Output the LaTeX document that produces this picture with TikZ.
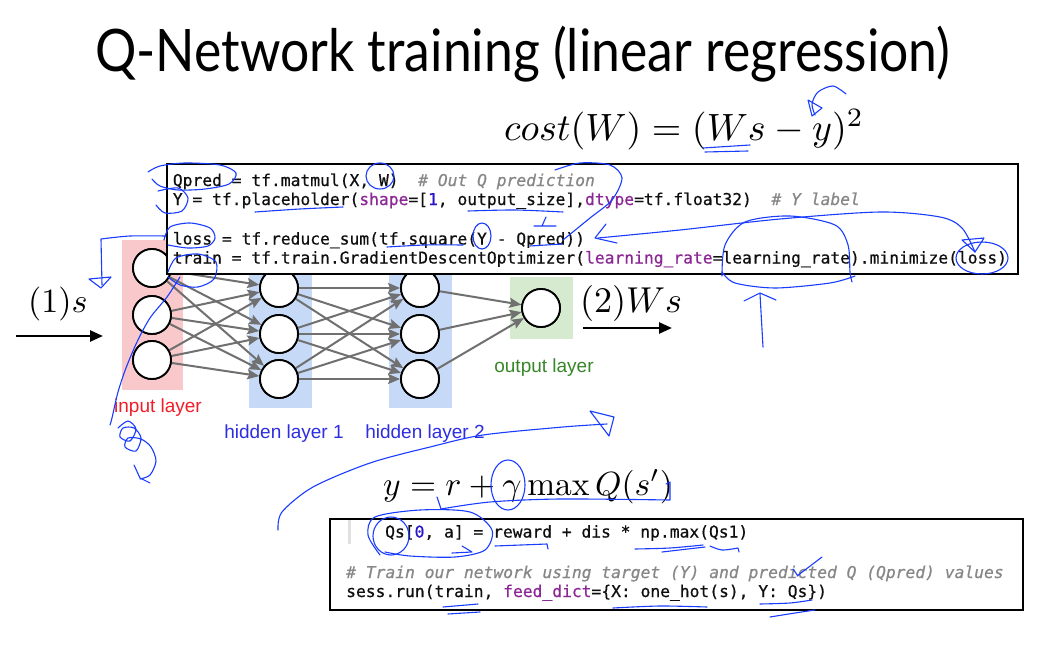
\documentclass[tikz,border=0pt]{standalone}
\usepackage{fontspec}
\usepackage{graphicx}
\usetikzlibrary{arrows.meta}
\newfontfamily\codefont[FakeBold=0.6]{DejaVu Sans Mono}
\newfontfamily\lblfont{Liberation Sans}
\newfontfamily\ttlfont{Lato}
\definecolor{inkblue}{RGB}{25,60,255}
\definecolor{pinkbg}{RGB}{248,200,202}
\definecolor{bluebg}{RGB}{198,218,247}
\definecolor{greenbg}{RGB}{214,234,208}
\definecolor{edgegray}{RGB}{112,112,112}
\definecolor{kw}{RGB}{140,40,150}
\definecolor{num}{RGB}{40,20,200}
\definecolor{cmt}{RGB}{135,135,135}
\definecolor{codefg}{RGB}{15,15,15}
\definecolor{inred}{RGB}{240,30,40}
\definecolor{hidblue}{RGB}{45,45,225}
\definecolor{outgreen}{RGB}{55,135,40}
\newcommand\bigmath[2]{\scalebox{#1}{$#2$}}
\begin{document}
\begin{tikzpicture}[x=1pt,y=-1pt,
  neuron/.style={circle, draw=black, line width=1.8pt, fill=white, minimum size=38pt, inner sep=0pt},
  edge/.style={draw=edgegray, line width=2pt, -{Stealth[length=12pt,width=10pt,inset=2pt]}},
  codebox/.style={draw=black, line width=1.6pt, fill=white, anchor=north west, inner sep=0pt},
  codeline/.style={anchor=base west, inner sep=0pt, font=\codefont\fontsize{16.3}{19}\selectfont, text=codefg},
  lbl/.style={font=\lblfont\fontsize{19}{22}\selectfont, inner sep=0pt},
  mathlbl/.style={anchor=base west, inner sep=0pt},
  bigarrow/.style={line width=2.6pt, -{Triangle[length=13pt,width=11pt]}},
  ink/.style={draw=inkblue, line width=1.1pt, line cap=round, line join=round}]
\useasboundingbox (0,0) rectangle (1044,669);
\fill[white] (0,0) rectangle (1044,669);

% title
\node[anchor=base west, inner sep=0pt] (title) at (95,72)
  {\resizebox{855pt}{\height}{\ttlfont\fontsize{58.6}{60}\selectfont Q-Network training (linear regression)}};

% layer backgrounds
\fill[pinkbg] (122,240) rectangle (183,390);
\fill[bluebg] (249,259) rectangle (312,408);
\fill[bluebg] (389,259) rectangle (452,408);
\fill[greenbg] (510,277) rectangle (573,339);

% neurons
\node[neuron] (i1) at (152,268) {};
\node[neuron] (i2) at (152,315) {};
\node[neuron] (i3) at (152,360) {};
\node[neuron] (h1) at (279,288) {};
\node[neuron] (h2) at (279,334) {};
\node[neuron] (h3) at (279,379) {};
\node[neuron] (g1) at (420,288) {};
\node[neuron] (g2) at (420,334) {};
\node[neuron] (g3) at (420,379) {};
\node[neuron] (o) at (541,308) {};

\foreach \s in {i1,i2,i3} \foreach \t in {h1,h2,h3} \draw[edge] (\s) -- (\t);
\foreach \s in {h1,h2,h3} \foreach \t in {g1,g2,g3} \draw[edge] (\s) -- (\t);
\foreach \s in {g1,g2,g3} \draw[edge] (\s) -- (o);
\foreach \n in {i1,i2,i3,h1,h2,h3,g1,g2,g3,o} \node[neuron] at (\n) {};

% layer labels
\node[lbl, text=inred] (lin) at (158,408) {input layer};
\node[lbl, text=hidblue] (lh1) at (284,434) {hidden layer 1};
\node[lbl, text=hidblue] (lh2) at (425,434) {hidden layer 2};
\node[lbl, text=outgreen] (lout) at (544,368) {output layer};

% code box 1
\node[codebox, minimum width=851pt, minimum height=110pt] (box1) at (166,163) {};
\node[codeline] (c1) at (172.7,186) {Qpred = tf.matmul(X, W)~~{\color{cmt}\itshape\# Out Q prediction}};
\node[codeline] (c2) at (172.7,205) {Y = tf.placeholder({\color{kw}shape}=[{\color{num}1}, output\_size],{\color{kw}dtype}=tf.float32)~~{\color{cmt}\itshape\# Y label}};
\node[codeline] (c3) at (172.7,244.5) {loss = tf.reduce\_sum(tf.square(Y - Qpred))};
\node[codeline] (c4) at (172.7,263.5) {train = tf.train.GradientDescentOptimizer({\color{kw}learning\_rate}=learning\_rate).minimize(loss)};

% code box 2
\node[codebox, minimum width=693pt, minimum height=91pt] (box2) at (329,518) {};
\fill[black!12] (347.5,520) rectangle (350.5,544);
\node[codeline] (d1) at (385,537.5) {Qs[{\color{num}0}, a] = reward + dis * np.max(Qs1)};
\node[codeline] (d2) at (346,578) {{\color{cmt}\itshape\# Train our network using target (Y) and predicted Q (Qpred) values}};
\node[codeline] (d3) at (346,597) {sess.run(train, {\color{kw}feed\_dict}=\{X: one\_hot(s), Y: Qs\})};

% math
\node[mathlbl] (cost) at (504,140) {\bigmath{3.8}{cost(W) = (Ws - y)^2}};
\node[mathlbl] (m1) at (28,312) {\bigmath{3.4}{(1)s}};
\node[mathlbl] (m2) at (580,312) {\bigmath{3.6}{(2)Ws}};
\node[mathlbl] (ytarget) at (383,495) {\bigmath{3.35}{y = r + \gamma \max Q(s')}};

% black arrows
\coordinate (a1s) at (16,336); \coordinate (a1e) at (103,336);
\coordinate (a2s) at (583,328); \coordinate (a2e) at (672,328);
\draw[bigarrow] (a1s) -- (a1e);
\draw[bigarrow] (a2s) -- (a2e);

% ---- handwritten blue ink ----
% Qpred oval
\draw[ink] plot[smooth] coordinates {(148,172) (160,166) (185,163) (220,165) (236,173) (229,184) (205,189) (178,190) (160,186) (152,179)};
% W circle
\draw[ink] (380,176) ellipse [x radius=14pt, y radius=13pt];
% Y circle
\draw[ink] plot[smooth] coordinates {(158,191) (178,188) (188,198) (182,211) (165,213) (156,205)};
% underlines line 2
\draw[ink] plot[smooth] coordinates {(255,212) (300,209) (343,207)};
\draw[ink] plot[smooth] coordinates {(468,211) (515,210) (563,212)};
\draw[ink] (546,217) -- (542,226) (534,226) -- (556,226);
% loss oval and hook arrow
\draw[ink] plot[smooth] coordinates {(164,240) (170,227) (190,223) (210,228) (215,238) (208,246) (188,248) (168,245)};
\draw[ink] plot[smooth] coordinates {(166,236) (130,236) (101,239)} -- (102,285);
\draw[ink] (89,279) -- (111,277) -- (101,288) -- cycle;
% oval near train / top input
\draw[ink] plot[smooth] coordinates {(168,272) (176,258) (198,254) (216,262) (214,279) (198,287) (180,285) (168,277)};
% long curve down left
\draw[ink] plot[smooth] coordinates {(180,277) (167,297) (150,318) (137,342) (126,368) (118,392) (112,418) (110,425)};
\draw[ink] plot[smooth] coordinates {(118,428) (128,421) (136,429) (130,441) (120,437) (123,428) (134,428) (141,438) (136,451) (125,447) (128,438) (141,439) (151,447) (156,461) (150,475) (140,479)};
\draw[ink] (134,465) -- (140,478) -- (150,483);
% line 4 marks
\draw[ink] plot[smooth] coordinates {(387,247) (425,245) (463,245)};
\draw[ink] (482,236) ellipse [x radius=9pt, y radius=13pt];
\draw[ink] (530,246) -- (562,244);
% big return arrow to Qpred))
\draw[ink] plot[smooth] coordinates {(975,252) (962,228) (940,217) (880,212) (780,219) (680,230) (598,238)};
\draw[ink] (606,224) -- (595,238) -- (617,243);
% learning_rate oval + up arrow
\draw[ink] plot[smooth] coordinates {(722,276) (725,245) (745,222) (790,216) (835,225) (848,245) (850,272) (852,282)};
\draw[ink] plot[smooth] coordinates {(722,272) (735,283) (775,288) (830,283) (855,276)};
\draw[ink] (763,347) -- (760,294);
\draw[ink] (744,301) -- (760,293) -- (776,300);
% (loss) oval
\draw[ink] (982,258) ellipse [x radius=26pt, y radius=16pt];
\draw[ink] (962,240) -- (984,238) -- (975,252) -- cycle;
% prediction hook
\draw[ink] plot[smooth] coordinates {(555,170) (580,163) (610,165) (622,178) (612,200) (590,218) (563,240)};
% cost marks
\draw[ink] (703,148) -- (750,145);
\draw[ink] (705,152) -- (748,151);
\draw[ink] plot[smooth] coordinates {(846,94) (833,86) (818,92) (812,104) (815,115)};
\draw[ink] (808,100) -- (822,108) -- (812,116) -- cycle;
% long bottom-left curve with arrow
\draw[ink] plot[smooth] coordinates {(278,530) (282,512) (313,487) (370,463) (430,447) (483,435) (563,427) (607,424)};
\draw[ink] (590,411) -- (614,417) -- (609,436) -- cycle;
% gamma circle and underline
\draw[ink] (508,485) ellipse [x radius=17pt, y radius=25pt];
\draw[ink] (437,497) -- (441,509);
\draw[ink] plot[smooth] coordinates {(441,509) (490,502) (560,499) (670,500)} -- (670,482) -- (666,484);
% Qs ovals
\draw[ink] (391,536) ellipse [x radius=18pt, y radius=19pt];
\draw[ink] plot[smooth] coordinates {(380,555) (368,535) (375,517) (420,510) (470,512) (492,530) (485,550) (455,557) (410,556) (385,552)};
\draw[ink] (452,553) -- (472,552) -- (462,546);
% bottom underlines
\draw[ink] (495,546) -- (547,544) -- (548,549);
\draw[ink] plot[smooth] coordinates {(635,549) (670,548) (703,545)};
\draw[ink] (662,552) -- (705,547);
\draw[ink] plot[smooth] coordinates {(710,546) (722,550) (738,548)} -- (739,552);
\draw[ink] (443,607) -- (478,604);
\draw[ink] (448,614) -- (480,612);
\draw[ink] plot[smooth] coordinates {(613,608) (660,606) (707,607)};
\draw[ink] plot[smooth] coordinates {(760,604) (790,603) (812,600)};
\draw[ink] plot[smooth] coordinates {(770,617) (795,613) (815,610)};
\draw[ink] (822,557) -- (797,576);
\draw[ink] (793,569) -- (798,576);
\end{tikzpicture}
\end{document}
